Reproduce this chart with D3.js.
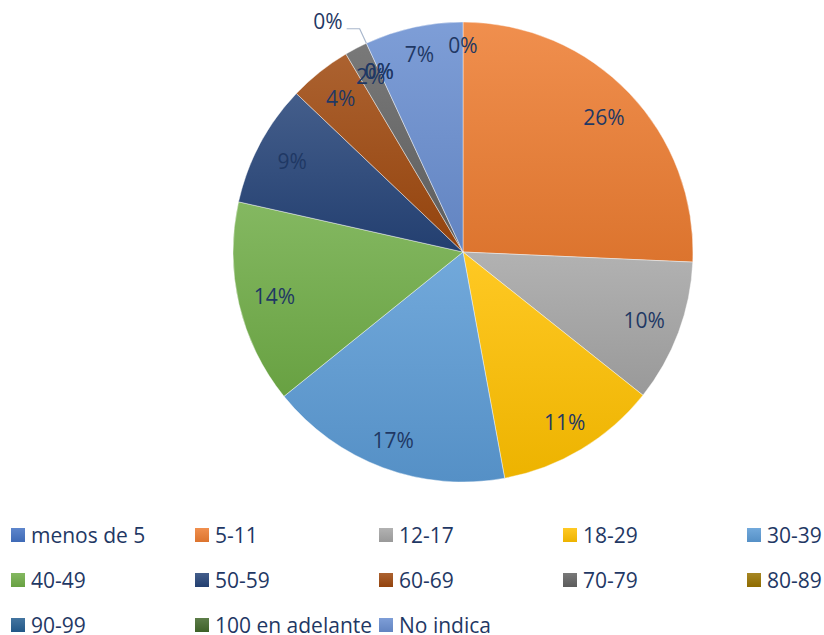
<!DOCTYPE html>
<html><head><meta charset="utf-8">
<script src="https://cdn.jsdelivr.net/npm/d3@7"></script>
<style>body{margin:0;background:#fff}svg{display:block}</style>
</head><body>
<script>
const categories = ["menos de 5","5-11","12-17","18-29","30-39","40-49","50-59","60-69","70-79","80-89","90-99","100 en adelante","No indica"];
const values = [0, 25.7, 10.0, 11.4, 17.1, 14.3, 8.6, 4.4, 1.6, 0, 0, 0, 6.9];
const colors = ["#4472C4","#ED7D31","#A5A5A5","#FFC000","#5B9BD5","#70AD47","#264478","#9E480E","#636363","#997300","#255E91","#43682B","#698ED0"];
const outsideLabels = ["100 en adelante"];

const W = 824, H = 635;
const cx = 463, cy = 252, R = 230;
const textColor = "#1F3864";
const font = "'Open Sans', sans-serif";

const svg = d3.select("body").append("svg").attr("width", W).attr("height", H);
const defs = svg.append("defs");
colors.forEach((c, i) => {
  const g = defs.append("linearGradient").attr("id", "g" + i)
    .attr("x1", 0).attr("y1", 0).attr("x2", 0).attr("y2", 1);
  g.append("stop").attr("offset", "0%").attr("stop-color", d3.interpolateRgb(c, "#fff")(0.14));
  g.append("stop").attr("offset", "100%").attr("stop-color", d3.interpolateRgb(c, "#000")(0.07));
});

const data = categories.map((c, i) => ({cat: c, value: values[i], idx: i}));
const total = d3.sum(values);
const pie = d3.pie().value(d => d.value).sort(null);
const arcs = pie(data);
const arc = d3.arc().innerRadius(0).outerRadius(R);

const g = svg.append("g").attr("transform", `translate(${cx},${cy})`);
g.selectAll("path.slice").data(arcs.filter(a => a.data.value > 0)).join("path")
  .attr("class", "slice")
  .attr("d", arc)
  .attr("fill", d => `url(#g${d.data.idx})`)
  .attr("stroke", "#fff").attr("stroke-width", 0.6).attr("stroke-opacity", 0.7);

const fmt = d => Math.round(d.data.value / total * 100) + "%";
const hx = 20, hy = 8, margin = 15;

// inside labels
arcs.filter(a => !outsideLabels.includes(a.data.cat)).forEach(a => {
  const ang = (a.startAngle + a.endAngle) / 2;
  const ux = Math.sin(ang), uy = -Math.cos(ang);
  const d = R - margin - (hx * Math.abs(ux) + hy * Math.abs(uy));
  g.append("text")
    .attr("x", ux * d).attr("y", uy * d)
    .attr("text-anchor", "middle").attr("dominant-baseline", "central")
    .attr("font-family", font).attr("font-size", 21).attr("fill", textColor)
    .text(fmt(a));
});

// outside labels with leader lines
arcs.filter(a => outsideLabels.includes(a.data.cat)).forEach(a => {
  const ang = (a.startAngle + a.endAngle) / 2;
  const ux = Math.sin(ang), uy = -Math.cos(ang);
  const p0 = [ux * R, uy * R];
  const p1 = [ux * (R + 16), uy * (R + 16)];
  const p2 = [p1[0] - 13, p1[1]];
  g.append("polyline")
    .attr("points", [p0, p1, p2].map(p => p.join(",")).join(" "))
    .attr("fill", "none").attr("stroke", "#A9B7CC").attr("stroke-width", 1.2);
  g.append("text")
    .attr("x", p2[0] - 4).attr("y", p2[1] - 7.5)
    .attr("text-anchor", "end").attr("dominant-baseline", "central")
    .attr("font-family", font).attr("font-size", 21).attr("fill", textColor)
    .text(fmt(a));
});

// legend
const cols = 5, colW = 184, rowH = 45, lx = 11, ly = 535, sw = 14;
const leg = svg.append("g");
data.forEach((d, i) => {
  const col = i % cols, row = Math.floor(i / cols);
  const x = lx + col * colW, y = ly + row * rowH;
  leg.append("rect").attr("x", x).attr("y", y - sw / 2).attr("width", sw).attr("height", sw)
    .attr("fill", `url(#g${i})`);
  leg.append("text").attr("x", x + 20).attr("y", y)
    .attr("dominant-baseline", "central")
    .attr("font-family", font).attr("font-size", 21).attr("fill", textColor)
    .text(d.cat);
});
</script>
</body></html>
